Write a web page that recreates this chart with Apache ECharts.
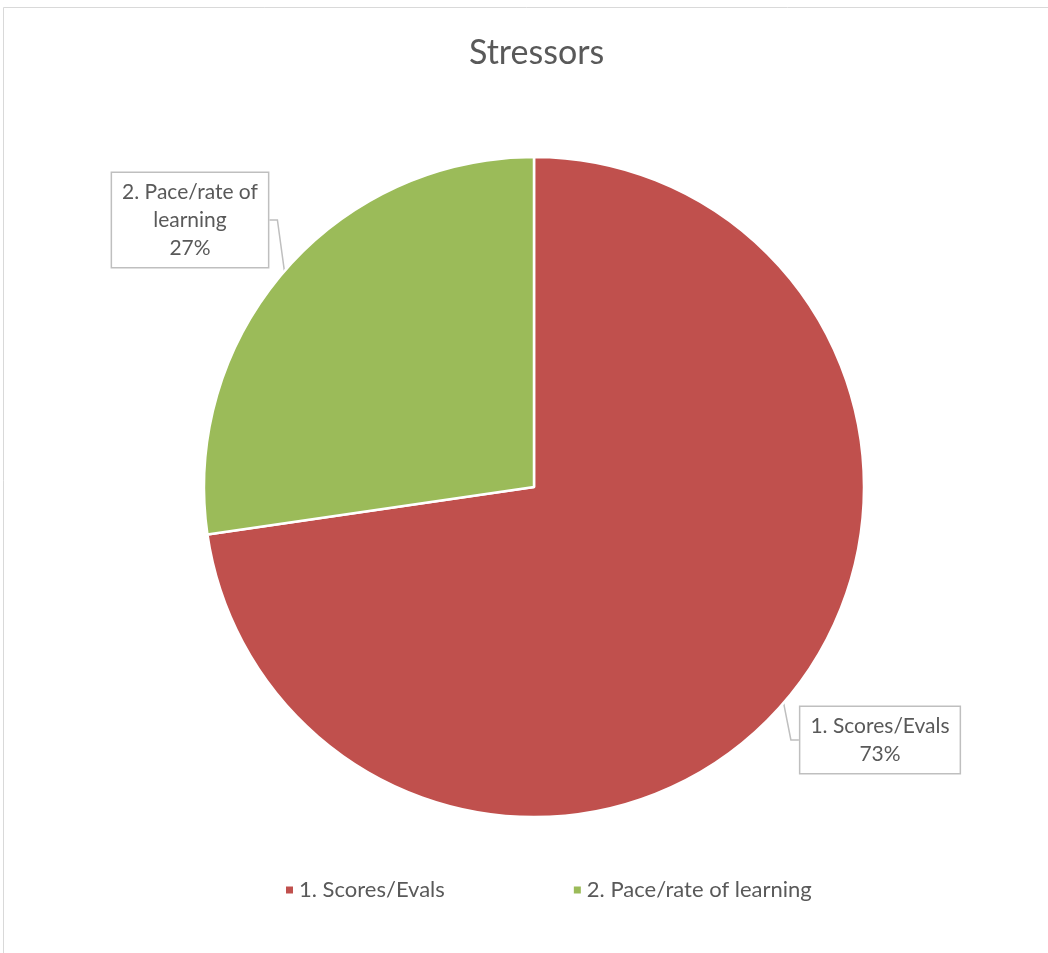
<!DOCTYPE html>
<html><head><meta charset="utf-8">
<script src="https://cdn.jsdelivr.net/npm/echarts@6/dist/echarts.min.js"></script>
<style>html,body{margin:0;padding:0;background:#fff}#c{width:1048px;height:953px}</style>
</head><body><div id="c"></div>
<script>
const categories = ['1. Scores/Evals', '2. Pace/rate of learning'];
const values = [72.7, 27.3];
const colors = ['#C0504D', '#9BBB59'];
const titleText = 'Stressors';

const chart = echarts.init(document.getElementById('c'));
const font = 'Lato, "Open Sans", sans-serif';
const labelPos = [{x: 880, y: 740}, {x: 190, y: 220}];
chart.setOption({
  backgroundColor: '#fff',
  animation: false,
  graphic: [{type: 'rect', shape: {x: 3.5, y: 7.5, width: 1100, height: 1000}, style: {fill: 'none', stroke: '#d9d9d9', lineWidth: 1}}],
  title: {text: titleText, left: 464, top: 31, textStyle: {fontFamily: font, fontSize: 34, fontWeight: 'normal', color: '#595959'}},
  legend: {
    top: 874, left: 279, itemGap: 127, itemWidth: 9, itemHeight: 9, icon: 'rect',
    textStyle: {fontFamily: font, fontSize: 22, color: '#595959', padding: [0, 0, 0, 0]},
    data: categories
  },
  series: [{
    type: 'pie', center: [534, 487], radius: 330, startAngle: 90, clockwise: true,
    itemStyle: {borderColor: '#fff', borderWidth: 2.5},
    data: categories.map((c, i) => ({name: c, value: values[i], itemStyle: {color: colors[i]}})),
    label: {
      show: true, position: 'outside',
      formatter: p => (p.dataIndex === 1 ? '2. Pace/rate of\nlearning' : p.name) + '\n' + Math.round(p.percent) + '%',
      fontFamily: font, fontSize: 21, color: '#595959', lineHeight: 28, align: 'center',
      backgroundColor: '#fff', borderColor: '#bfbfbf', borderWidth: 1.5, padding: [5, 10, 5, 10]
    },
    labelLine: {show: true, length: 8, length2: 8, lineStyle: {color: '#bfbfbf', width: 1.5}},
    labelLayout: p => ({x: labelPos[p.dataIndex].x, y: labelPos[p.dataIndex].y, align: 'center', verticalAlign: 'middle'})
  }]
});
</script></body></html>
